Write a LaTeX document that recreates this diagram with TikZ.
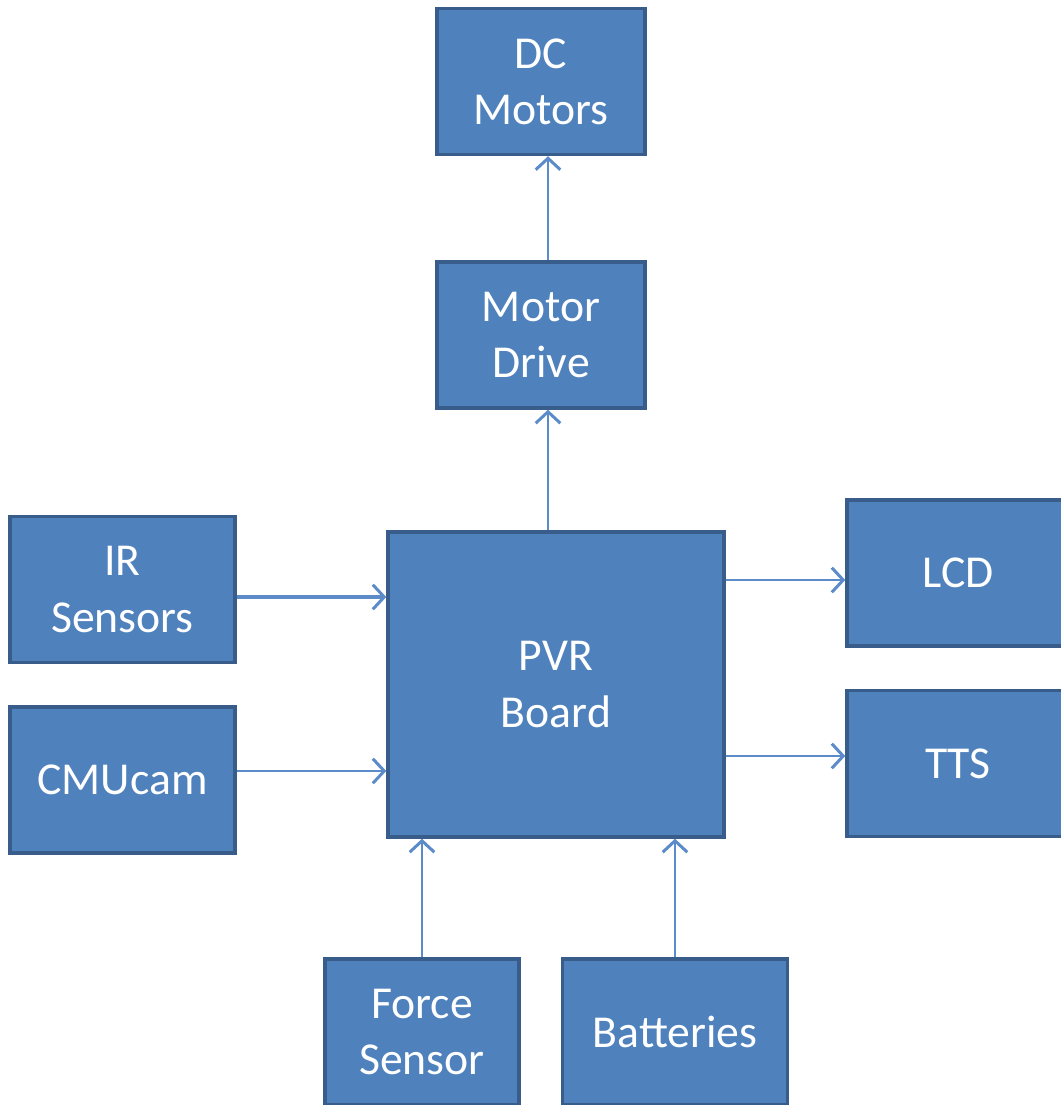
\documentclass[tikz,border=0pt]{standalone}
\usepackage{fontspec}
\setmainfont{Carlito}
\usepackage{xcolor}
\usepackage{tikz}
\usetikzlibrary{positioning,calc,arrows.meta}

\definecolor{boxfill}{HTML}{4F81BD}
\definecolor{boxline}{HTML}{385D8A}
\definecolor{wire}{HTML}{5B8BC8}

\begin{document}
\begin{tikzpicture}[
    x=0.02cm,
    y=-0.02cm,
    font=\fontsize{26}{32}\selectfont,
    block/.style={
        draw=boxline,
        line width=2pt,
        fill=boxfill,
        text=white,
        align=center,
        minimum width=4.16cm,
        minimum height=2.92cm,
        inner sep=0pt
    },
    side/.style={
        block,
        minimum width=4.5cm
    },
    arrow/.style={
        draw=wire,
        line width=1.5pt,
        -{Straight Barb[length=6.5pt,width=14pt,line width=1.7pt]}
    },
    thickarrow/.style={
        arrow,
        line width=2.2pt
    }
]
\useasboundingbox (0,0) rectangle (1061,1105);
\clip (0,0) rectangle (1061,1105);

\node[block] (dc) at (541,81.5) {DC\\Motors};
\node[block] (drive) at (541,335) {Motor\\Drive};
\node[block, minimum width=6.72cm, minimum height=6.1cm] (pvr) at (556,684.5) {PVR\\Board};
\node[side] (ir) at (122.5,589.5) {IR\\Sensors};
\node[side] (cam) at (122.5,780) {CMUcam};
\node[side, minimum width=4.44cm] (lcd) at (958,573) {LCD};
\node[side, minimum width=4.44cm] (tts) at (958,763.5) {TTS};
\node[block, minimum width=3.88cm] (force) at (422,1032) {Force\\Sensor};
\node[side] (batt) at (675,1032) {Batteries};

% where the wires leave or meet the boxes
\coordinate (drivetop) at ($(drive.north)+(7,0)$);
\coordinate (drivebot) at ($(drive.south)+(7,0)$);
\coordinate (irout) at ($(ir.east)+(0,7.5)$);
\coordinate (camout) at ($(cam.east)+(0,-9)$);
\coordinate (lcdin) at ($(lcd.west)+(0,7)$);
\coordinate (ttsin) at ($(tts.west)+(0,-7.5)$);

% up the middle
\draw[arrow] (drivetop) -- (drivetop |- dc.south);
\draw[arrow] (drivebot |- pvr.north) -- (drivebot);

% inputs on the left
\draw[thickarrow] (irout) -- (irout -| pvr.west);
\draw[arrow] (camout) -- (camout -| pvr.west);

% outputs on the right
\draw[arrow] (lcdin -| pvr.east) -- (lcdin);
\draw[arrow] (ttsin -| pvr.east) -- (ttsin);

% inputs from below
\draw[arrow] (force.north) -- (force.north |- pvr.south);
\draw[arrow] (batt.north) -- (batt.north |- pvr.south);

\end{tikzpicture}
\end{document}
